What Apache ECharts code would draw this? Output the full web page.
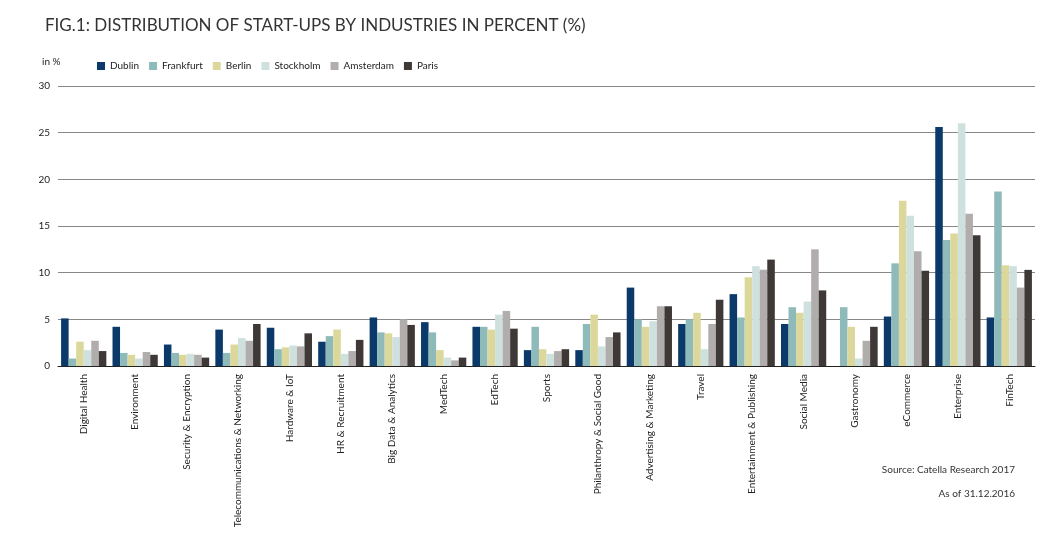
<!DOCTYPE html>
<html lang="en">
<head>
  <meta charset="UTF-8">
  <title>Start-ups by industries</title>
  <style>
    body { margin: 0; background: #fff; }
    #chart { width: 1063px; height: 552px; }
  </style>
</head>
<body>
  <div id="chart"></div>
  <script src="https://cdn.jsdelivr.net/npm/echarts@6/dist/echarts.min.js"></script>
  <script>
    const industries = ['Digital Health', 'Environment', 'Security & Encryption', 'Telecommunications & Networking',
      'Hardware & IoT', 'HR & Recruitment', 'Big Data & Analytics', 'MedTech', 'EdTech', 'Sports',
      'Philanthropy & Social Good', 'Advertising & Marketing', 'Travel', 'Entertainment & Publishing',
      'Social Media', 'Gastronomy', 'eCommerce', 'Enterprise', 'FinTech']
    const dublin    = [5.1, 4.2, 2.3, 3.9, 4.1, 2.6, 5.2, 4.7, 4.2, 1.7, 1.7, 8.4, 4.5, 7.7, 4.5, 0, 5.3, 25.6, 5.2]
    const frankfurt = [0.8, 1.4, 1.4, 1.4, 1.8, 3.2, 3.6, 3.6, 4.2, 4.2, 4.5, 5.0, 5.0, 5.2, 6.3, 6.3, 11.0, 13.5, 18.7]
    const berlin    = [2.6, 1.2, 1.2, 2.3, 2.0, 3.9, 3.5, 1.7, 3.9, 1.8, 5.5, 4.2, 5.7, 9.5, 5.7, 4.2, 17.7, 14.2, 10.8]
    const stockholm = [1.7, 0.8, 1.3, 3.0, 2.2, 1.3, 3.1, 0.9, 5.5, 1.3, 2.1, 4.8, 1.8, 10.7, 6.9, 0.8, 16.1, 26.0, 10.7]
    const amsterdam = [2.7, 1.5, 1.2, 2.7, 2.1, 1.6, 5.0, 0.6, 5.9, 1.6, 3.1, 6.4, 4.5, 10.3, 12.5, 2.7, 12.3, 16.3, 8.4]
    const paris     = [1.6, 1.2, 0.9, 4.5, 3.5, 2.8, 4.4, 0.9, 4.0, 1.8, 3.6, 6.4, 7.1, 11.4, 8.1, 4.2, 10.2, 14.0, 10.3]
    const cities = ['Dublin', 'Frankfurt', 'Berlin', 'Stockholm', 'Amsterdam', 'Paris']
    const colors = ['#0b3a6a', '#8fbaba', '#dcd89c', '#cfe1df', '#b1adac', '#3e3836']

    const values = [dublin, frankfurt, berlin, stockholm, amsterdam, paris]
    const font = 'Lato, "Open Sans", sans-serif'

    const chart = echarts.init(document.getElementById('chart'))
    chart.setOption({
      color: colors,
      textStyle: { fontFamily: font },
      animation: false,
      title: {
        text: 'FIG.1: DISTRIBUTION OF START-UPS BY INDUSTRIES IN PERCENT (%)',
        left: 40, top: 12,
        textStyle: { fontSize: 17, fontWeight: 'normal', color: '#333', fontFamily: font }
      },
      legend: {
        data: cities, left: 92, top: 56, itemWidth: 8, itemHeight: 8, itemGap: 10,
        icon: 'rect',
        textStyle: { fontSize: 10, color: '#222' }
      },
      graphic: [
        { type: 'text', left: 42, top: 57, style: { text: 'in %', fill: '#222', font: '10px ' + font } },
        { type: 'text', right: 48, top: 465, style: { text: 'Source: Catella Research 2017', fill: '#333', font: '10px ' + font } },
        { type: 'text', right: 48, top: 489, style: { text: 'As of 31.12.2016', fill: '#333', font: '10px ' + font } }
      ],
      grid: { left: 58, right: 28, top: 86, bottom: 186 },
      xAxis: {
        type: 'category', data: industries,
        axisLine: { lineStyle: { color: '#222' } },
        axisTick: { lineStyle: { color: '#222' }, length: 5 },
        axisLabel: { rotate: 90, fontSize: 10, color: '#222', interval: 0, margin: 8 }
      },
      yAxis: {
        type: 'value', min: 0, max: 30, interval: 5,
        axisLabel: { fontSize: 10, color: '#222' },
        splitLine: { lineStyle: { color: '#888', width: 1.2 } }
      },
      series: cities.map((c, i) => ({
        name: c, type: 'bar', data: values[i],
        barGap: '0%', barCategoryGap: '12%'
      }))
    })
  </script>
</body>
</html>
